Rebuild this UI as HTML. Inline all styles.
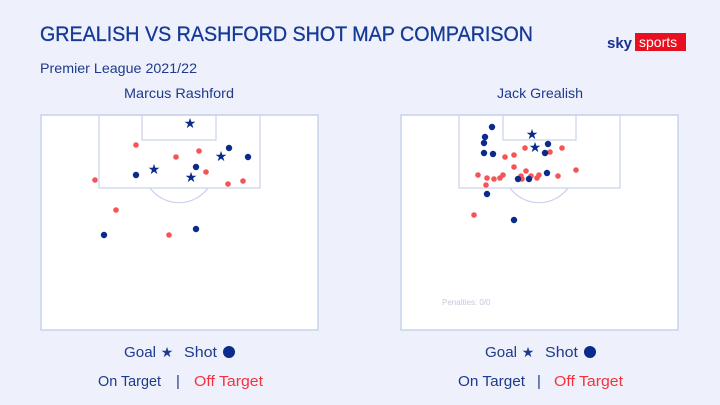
<!DOCTYPE html>
<html><head><meta charset="utf-8"><style>
html,body{margin:0;padding:0;background:#eef0fb;}
svg{display:block;font-family:"Liberation Sans",sans-serif;}
</style></head><body>
<svg width="720" height="405" viewBox="0 0 720 405">
<rect width="720" height="405" fill="#eef0fb"/>
<text x="40" y="41" font-size="21" fill="#143a96" stroke="#143a96" stroke-width="0.3" textLength="493" lengthAdjust="spacingAndGlyphs">GREALISH VS RASHFORD SHOT MAP COMPARISON</text>
<text x="40" y="73" font-size="14" fill="#1d3a8c" textLength="157" lengthAdjust="spacingAndGlyphs">Premier League 2021/22</text>
<text x="124" y="98" font-size="14" fill="#1d3a8c" textLength="110" lengthAdjust="spacingAndGlyphs">Marcus Rashford</text>
<text x="497" y="98" font-size="14" fill="#1d3a8c" textLength="86" lengthAdjust="spacingAndGlyphs">Jack Grealish</text>
<text x="607" y="48" font-size="15" font-weight="bold" fill="#1a2f8f">sky</text>
<rect x="635" y="33" width="51" height="18" fill="#e8101e"/>
<text x="639" y="47" font-size="14" fill="#fff">sports</text>

<g fill="#fff" stroke="#c9d2ea" stroke-width="1.5">
<rect x="41" y="115" width="277" height="215"/>
<rect x="401" y="115" width="277" height="215"/>
</g>
<g fill="none" stroke="#c9d2ea" stroke-width="1.2">
<rect x="99" y="115" width="161" height="73"/>
<rect x="142" y="115" width="74" height="25"/>
<path d="M150 188 A36 36 0 0 0 208 188"/>
<rect x="459" y="115" width="161" height="73"/>
<rect x="503" y="115" width="73" height="25"/>
<path d="M510 188 A36 36 0 0 0 568 188"/>
</g>
<text x="442" y="305" font-size="8" fill="#c3c9dc">Penalties: 0/0</text>

<g fill="#f55555">
<circle cx="136" cy="145" r="2.8"/><circle cx="176" cy="157" r="2.8"/><circle cx="199" cy="151" r="2.8"/>
<circle cx="206" cy="172" r="2.8"/><circle cx="95" cy="180" r="2.8"/><circle cx="228" cy="184" r="2.8"/>
<circle cx="243" cy="181" r="2.8"/><circle cx="116" cy="210" r="2.8"/><circle cx="169" cy="235" r="2.8"/>

<circle cx="525" cy="148" r="2.8"/><circle cx="550" cy="152" r="2.8"/><circle cx="562" cy="148" r="2.8"/>
<circle cx="505" cy="157" r="2.8"/><circle cx="514" cy="155" r="2.8"/><circle cx="514" cy="167" r="2.8"/>
<circle cx="526" cy="171" r="2.8"/><circle cx="478" cy="175" r="2.8"/><circle cx="487" cy="178" r="2.8"/>
<circle cx="494" cy="179" r="2.8"/><circle cx="500" cy="178" r="2.8"/><circle cx="503" cy="175" r="2.8"/>
<circle cx="521" cy="176" r="2.8"/><circle cx="522" cy="179" r="2.8"/><circle cx="531" cy="176" r="2.8"/>
<circle cx="537" cy="178" r="2.8"/><circle cx="539" cy="175" r="2.8"/><circle cx="558" cy="176" r="2.8"/>
<circle cx="576" cy="170" r="2.8"/><circle cx="486" cy="185" r="2.8"/><circle cx="474" cy="215" r="2.8"/>
</g>
<g fill="#0b2b8a">
<circle cx="229" cy="148" r="3.2"/><circle cx="248" cy="157" r="3.2"/><circle cx="196" cy="167" r="3.2"/>
<circle cx="136" cy="175" r="3.2"/><circle cx="104" cy="235" r="3.2"/><circle cx="196" cy="229" r="3.2"/>

<circle cx="492" cy="127" r="3.2"/><circle cx="485" cy="137" r="3.2"/><circle cx="484" cy="143" r="3.2"/>
<circle cx="484" cy="153" r="3.2"/><circle cx="493" cy="154" r="3.2"/><circle cx="548" cy="144" r="3.2"/>
<circle cx="545" cy="153" r="3.2"/><circle cx="547" cy="173" r="3.2"/><circle cx="518" cy="179" r="3.2"/>
<circle cx="529" cy="179" r="3.2"/><circle cx="487" cy="194" r="3.2"/><circle cx="514" cy="220" r="3.2"/>
</g>
<g fill="#0b2b8a" font-size="14" text-anchor="middle" font-family="DejaVu Sans,sans-serif">
<text x="190" y="128">★</text><text x="221" y="161">★</text><text x="154" y="174">★</text><text x="191" y="182">★</text>
<text x="532" y="139">★</text><text x="535" y="152">★</text>
</g>

<g font-size="15">
<text x="124" y="357" fill="#1d3a8c" textLength="32" lengthAdjust="spacingAndGlyphs">Goal</text>
<text x="167" y="357" fill="#1d3a8c" font-family="DejaVu Sans,sans-serif" font-size="14" text-anchor="middle">★</text>
<text x="184" y="357" fill="#1d3a8c" textLength="33" lengthAdjust="spacingAndGlyphs">Shot</text>
<circle cx="229" cy="352" r="6" fill="#0b2b8a"/>
<text x="98" y="386" fill="#1d3a8c" textLength="63" lengthAdjust="spacingAndGlyphs">On Target</text>
<text x="176" y="386" fill="#1d3a8c">|</text>
<text x="194" y="386" fill="#f5323c" textLength="69" lengthAdjust="spacingAndGlyphs">Off Target</text>

<text x="485" y="357" fill="#1d3a8c" textLength="32" lengthAdjust="spacingAndGlyphs">Goal</text>
<text x="528" y="357" fill="#1d3a8c" font-family="DejaVu Sans,sans-serif" font-size="14" text-anchor="middle">★</text>
<text x="545" y="357" fill="#1d3a8c" textLength="33" lengthAdjust="spacingAndGlyphs">Shot</text>
<circle cx="590" cy="352" r="6" fill="#0b2b8a"/>
<text x="458" y="386" fill="#1d3a8c" textLength="67" lengthAdjust="spacingAndGlyphs">On Target</text>
<text x="537" y="386" fill="#1d3a8c">|</text>
<text x="554" y="386" fill="#f5323c" textLength="69" lengthAdjust="spacingAndGlyphs">Off Target</text>
</g>
</svg>
</body></html>
